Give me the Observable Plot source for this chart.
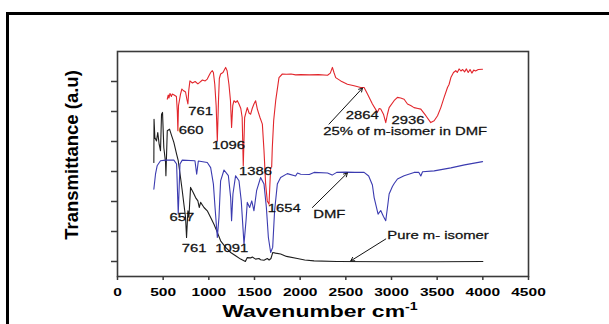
<!DOCTYPE html>
<html>
<head>
<meta charset="utf-8">
<script src="https://cdn.jsdelivr.net/npm/d3@7"></script>
<script src="https://cdn.jsdelivr.net/npm/@observablehq/plot@0.6"></script>
<style>
  html, body { margin: 0; padding: 0; background: #fff; }
  #wrap { position: relative; width: 609px; height: 324px; overflow: hidden; background: #fff; }
  #border { position: absolute; left: 6px; top: 12px; width: 800px; height: 500px;
            border-left: 3px solid #000; border-top: 3px solid #000; pointer-events: none; }
  #chart { position: absolute; left: 0; top: 0; }
</style>
</head>
<body>
<div id="wrap"><div id="chart"></div><div id="border"></div></div>
<script>
// ---- Data ----
// Pure m-isomer (black)
const pureWn = [398, 400, 409, 427, 441, 456, 471, 482, 493, 507, 526, 530, 545, 570, 588, 617, 647, 665, 690, 709, 727, 745, 756, 771, 782, 800, 829, 855, 880, 895, 910, 947, 983, 1020, 1056, 1093, 1129, 1184, 1239, 1293, 1348, 1400, 1421, 1458, 1476, 1512, 1549, 1567, 1604, 1640, 1660, 1680, 1700, 1730, 1786, 1850, 1969, 2050, 2152, 2400, 3000, 3500, 4000];
const pureT  = [4.30, 5.74, 5.13, 5.02, 5.30, 4.91, 4.69, 5.91, 5.97, 4.80, 4.30, 3.86, 5.36, 5.41, 5.24, 4.97, 4.58, 4.36, 3.80, 3.36, 2.91, 2.47, 1.80, 2.69, 2.47, 3.47, 3.30, 3.13, 3.02, 2.80, 2.97, 2.80, 2.69, 2.47, 2.24, 1.97, 1.69, 1.47, 1.30, 1.19, 1.08, 1.00, 1.13, 1.12, 1.15, 1.08, 1.10, 1.06, 1.04, 1.10, 1.05, 1.10, 1.30, 1.28, 1.25, 1.17, 1.10, 1.05, 1.02, 1.00, 0.99, 0.99, 1.00];

// DMF (blue)
const dmfWn = [398, 416, 434, 471, 526, 617, 647, 665, 684, 709, 848, 867, 885, 983, 1020, 1050, 1068, 1093, 1111, 1129, 1166, 1214, 1239, 1249, 1264, 1293, 1330, 1355, 1385, 1407, 1421, 1447, 1470, 1494, 1523, 1567, 1604, 1630, 1652, 1677, 1699, 1720, 1750, 1786, 1859, 1950, 1970, 2006, 2100, 2152, 2300, 2350, 2400, 2500, 2600, 2700, 2750, 2791, 2810, 2853, 2882, 2912, 2937, 2960, 2974, 3010, 3028, 3065, 3138, 3247, 3300, 3321, 3340, 3467, 3650, 3800, 3997];
const dmfT  = [3.41, 3.91, 4.19, 4.36, 4.38, 4.38, 4.25, 2.58, 4.25, 4.38, 4.36, 3.91, 4.35, 4.30, 4.13, 3.58, 2.80, 1.80, 2.47, 3.69, 4.05, 3.86, 3.13, 2.36, 3.25, 3.86, 3.69, 3.02, 1.58, 2.36, 2.97, 2.80, 3.02, 2.69, 3.36, 3.80, 3.58, 2.80, 1.80, 1.30, 1.47, 2.69, 3.58, 3.80, 3.93, 3.85, 3.95, 3.91, 3.90, 3.97, 3.95, 3.88, 3.97, 3.98, 3.97, 3.97, 3.85, 3.55, 3.13, 2.58, 2.70, 2.50, 2.36, 2.90, 3.25, 3.50, 3.59, 3.75, 3.86, 3.97, 3.97, 3.85, 3.99, 4.02, 4.12, 4.22, 4.33];

// 25% of m-isomer in DMF (red)
const mixWn = [545, 555, 563, 575, 590, 599, 620, 645, 655, 661, 668, 690, 705, 720, 745, 760, 771, 780, 793, 820, 850, 880, 900, 930, 960, 983, 1001, 1020, 1038, 1050, 1065, 1080, 1093, 1105, 1115, 1129, 1155, 1184, 1200, 1220, 1237, 1249, 1262, 1275, 1295, 1312, 1330, 1350, 1365, 1377, 1392, 1421, 1440, 1458, 1475, 1494, 1512, 1531, 1560, 1586, 1604, 1622, 1640, 1659, 1677, 1688, 1695, 1710, 1732, 1768, 1805, 1850, 1900, 1950, 2006, 2100, 2200, 2300, 2330, 2353, 2370, 2389, 2444, 2517, 2590, 2663, 2700, 2737, 2791, 2846, 2865, 2882, 2912, 2937, 2955, 2974, 3028, 3065, 3100, 3138, 3175, 3210, 3247, 3290, 3321, 3376, 3430, 3467, 3504, 3540, 3576, 3613, 3630, 3650, 3679, 3704, 3720, 3740, 3760, 3780, 3800, 3820, 3840, 3860, 3880, 3900, 3920, 3950, 3997];
const mixT  = [6.41, 6.55, 6.45, 6.60, 6.50, 6.58, 6.55, 6.50, 6.00, 5.36, 6.20, 6.58, 6.75, 6.70, 6.65, 6.40, 6.25, 6.70, 7.02, 6.95, 7.00, 6.92, 6.97, 7.05, 7.02, 7.08, 7.19, 7.30, 7.36, 7.30, 6.91, 6.20, 5.02, 6.30, 7.10, 7.25, 7.30, 7.47, 7.36, 6.91, 6.36, 5.47, 6.20, 6.36, 6.30, 6.36, 6.25, 6.10, 5.80, 4.19, 5.80, 6.13, 5.95, 5.91, 6.10, 6.25, 6.36, 6.08, 5.80, 5.58, 4.69, 3.58, 3.02, 2.91, 4.13, 4.15, 4.80, 5.70, 6.36, 7.13, 7.25, 7.24, 7.25, 7.22, 7.23, 7.22, 7.23, 7.21, 7.28, 7.47, 7.30, 7.13, 7.02, 6.91, 6.86, 6.80, 6.80, 6.58, 6.25, 5.97, 6.10, 6.08, 5.91, 5.63, 5.90, 6.13, 6.36, 6.47, 6.45, 6.41, 6.25, 6.20, 6.13, 6.10, 6.08, 5.86, 5.63, 5.69, 5.86, 6.13, 6.47, 6.80, 6.90, 7.13, 7.30, 7.36, 7.30, 7.42, 7.35, 7.40, 7.32, 7.42, 7.30, 7.40, 7.28, 7.38, 7.35, 7.40, 7.41];

// Peak / series annotations
const annText = ["761", "660", "1096", "1386", "1654", "657", "761", "1091", "DMF", "2864", "2936", "25% of m-isomer in DMF", "Pure m- isomer"];
const annWn   = [910, 805, 1215, 1510, 1825, 705, 838, 1250, 2320, 2680, 3180, 3150, 3510];
const annT    = [6.00, 5.38, 4.86, 4.00, 2.78, 2.48, 1.45, 1.45, 2.58, 5.86, 5.70, 5.35, 1.87];

// Leader arrows (tail -> head)
const arrowX1 = [2316, 2134, 2937];
const arrowY1 = [5.58, 2.80, 1.75];
const arrowX2 = [2682, 2517, 2554];
const arrowY2 = [6.78, 3.95, 1.02];

const xTicks = [0, 500, 1000, 1500, 2000, 2500, 3000, 3500, 4000, 4500];
const yTicks = [1, 2, 3, 4, 5, 6, 7];
const xTitle = "Wavenumber cm";
const xTitleSup = "-1";
const yTitle = "Transmittance (a.u)";

// ---- Build tables ----
const toRows = (xs, ys) => xs.map((x, i) => ({x, y: ys[i]}));
const pure = toRows(pureWn, pureT);
const dmf = toRows(dmfWn, dmfT);
const mix = toRows(mixWn, mixT);
const ann = annText.map((t, i) => ({t, x: annWn[i], y: annT[i]}));
const arrows = arrowX1.map((x1, i) => ({x1, y1: arrowY1[i], x2: arrowX2[i], y2: arrowY2[i]}));

const FONT = "'Liberation Sans', Arial, Helvetica, sans-serif";

const chart = Plot.plot({
  width: 609,
  height: 324,
  marginLeft: 117,
  marginRight: 81,
  marginTop: 51,
  marginBottom: 48,
  x: {domain: [0, 4500]},
  y: {domain: [0.5, 8]},
  style: {fontFamily: FONT, background: "transparent", color: "#000", overflow: "visible"},
  marks: [
    Plot.frame({stroke: "#3a3a3a", strokeWidth: 1.6}),
    Plot.axisY(yTicks, {tickSize: 6, tickFormat: () => "", stroke: "#3a3a3a", strokeWidth: 1.5, label: null}),
    Plot.axisX(xTicks, {tickSize: 4, tickPadding: 7, stroke: "#3a3a3a", strokeWidth: 1.5,
                        tickFormat: (d) => String(d),
                        fontSize: 11.5, fontWeight: "bold", fill: "#000", label: null}),
    Plot.line(pure, {x: "x", y: "y", stroke: "#1e1e1e", strokeWidth: 1.1}),
    Plot.line(dmf, {x: "x", y: "y", stroke: "#3b3bb0", strokeWidth: 1.1}),
    Plot.line(mix, {x: "x", y: "y", stroke: "#e2262c", strokeWidth: 1.1}),
    Plot.arrow(arrows, {x1: "x1", y1: "y1", x2: "x2", y2: "y2", stroke: "#111", strokeWidth: 1, headLength: 6}),
    Plot.text(ann, {x: "x", y: "y", text: "t", fontSize: 11, fill: "#111", stroke: "#111", strokeWidth: 0.25}),
    Plot.text([xTitle], {frameAnchor: "bottom", dy: 40.5, dx: -3, fontSize: 17, fontWeight: "bold", fill: "#000"}),
    Plot.text([yTitle], {frameAnchor: "left", textAnchor: "middle", rotate: -90, dx: -45, dy: -9,
                         fontSize: 18.5, fontWeight: "bold", fill: "#000"})
  ]
});

document.getElementById("chart").appendChild(chart);

// superscript on x title
const svgNS = "http://www.w3.org/2000/svg";
chart.querySelectorAll("text").forEach(t => {
  if (t.textContent === xTitle) {
    const sp = document.createElementNS(svgNS, "tspan");
    sp.setAttribute("dy", "-0.65em");
    sp.setAttribute("dx", "0");
    sp.setAttribute("font-size", "10.5");
    sp.textContent = xTitleSup;
    t.appendChild(sp);
  }
});

// The reference image is horizontally stretched: widen the (unrotated) text glyphs.
const STRETCH = 1.35;
chart.querySelectorAll("text").forEach(t => {
  const tr = t.getAttribute("transform") || "";
  if (tr.includes("rotate")) return;
  if (!t.textContent) return;
  const b = t.getBBox();
  let cx = b.x + b.width / 2, cy = b.y + b.height / 2;
  const tl = t.transform.baseVal.consolidate();
  if (tl) {
    const m = tl.matrix;
    const nx = m.a * cx + m.c * cy + m.e, ny = m.b * cx + m.d * cy + m.f;
    cx = nx; cy = ny;
  }
  const g = document.createElementNS(svgNS, "g");
  g.setAttribute("transform", `translate(${cx},${cy}) scale(${STRETCH},1) translate(${-cx},${-cy})`);
  t.parentNode.insertBefore(g, t);
  g.appendChild(t);
});
</script>
</body>
</html>
